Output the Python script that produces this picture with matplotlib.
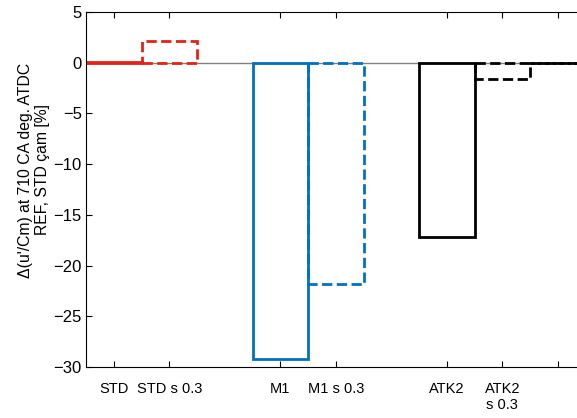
import matplotlib.pyplot as plt

plt.rcParams['font.family'] = ['Liberation Sans', 'DejaVu Sans']

# values
positions = [1, 2, 4, 5, 7, 8, 9]
labels = ['STD', 'STD s 0.3', 'M1', 'M1 s 0.3', 'ATK2', 'ATK2\ns 0.3', '']
values = [0.1, 2.15, -29.2, -21.8, -17.2, -1.6, 0.0]
colors = ['#E2231A', '#E2231A', '#0072BD', '#0072BD', 'black', 'black', 'black']
styles = ['-', '--', '-', '--', '-', '--', '--']

fig = plt.figure(figsize=(5.77, 4.18), dpi=100)
ax = fig.add_axes([86/577, 51/418, 499.5/577, 355/418])

ax.axhline(0, color='gray', lw=1, zorder=1)
for p, v, c, s in zip(positions, values, colors, styles):
    ax.bar(p, v, width=1, fill=False, edgecolor=c, linestyle=s, linewidth=2, zorder=2)

ax.set_xlim(0.5, 9.5)
ax.set_ylim(-30, 5)
ax.set_yticks(range(-30, 6, 5))
ax.set_xticks(positions)
ax.set_xticklabels(labels, fontsize=10.5, linespacing=1.2)
ax.tick_params(axis='x', direction='in', top=True, pad=11, length=4)
ax.tick_params(axis='y', direction='in', labelsize=12, pad=3, length=4)
ax.spines['right'].set_visible(False)

ax.set_ylabel("Δ(u'/Cm) at 710 CA deg. ATDC\nREF, STD çam [%]", fontsize=11.3, linespacing=1.15)
ax.yaxis.set_label_coords(-0.072, 0.555)

fig.savefig('out.png', dpi=100)
